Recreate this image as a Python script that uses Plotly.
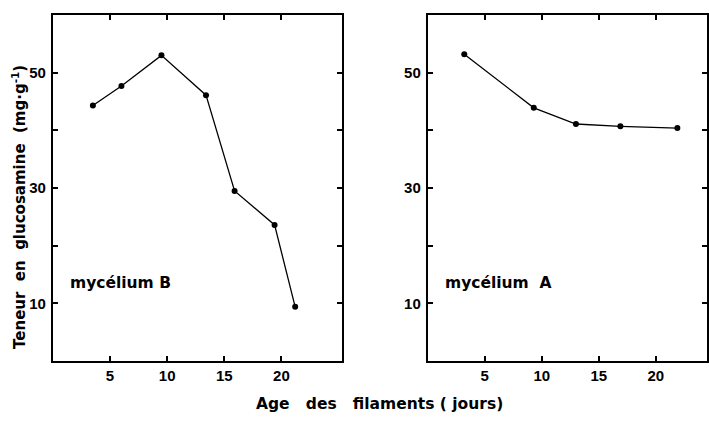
import plotly.graph_objects as go

# Data
days_B = [3.5, 6.0, 9.5, 13.4, 15.9, 19.4, 21.2]
glucosamine_B = [44.3, 47.7, 53.0, 46.1, 29.5, 23.6, 9.4]
days_A = [3.2, 9.3, 13.0, 16.9, 21.9]
glucosamine_A = [53.2, 43.9, 41.1, 40.7, 40.4]

x_tickvals = [5, 10, 15, 20]
y_tickvals = [10, 20, 30, 40, 50]
y_ticktext = ["10", "", "30", "", "50"]

FONT = "Liberation Sans"
LFONT = "DejaVu Sans"
W, H = 709, 422

fig = go.Figure()
line_style = dict(color="black", width=1.3)
marker_style = dict(color="black", size=6)

fig.add_trace(go.Scatter(x=days_B, y=glucosamine_B, mode="lines+markers",
                         line=line_style, marker=marker_style,
                         xaxis="x", yaxis="y", showlegend=False))
fig.add_trace(go.Scatter(x=days_A, y=glucosamine_A, mode="lines+markers",
                         line=line_style, marker=marker_style,
                         xaxis="x2", yaxis="y2", showlegend=False))

xdom1 = [53 / W, 343 / W]
xdom2 = [429 / W, 1.0]
ydom = [61 / H, 407 / H]

tickfont = dict(family=FONT, size=15, color="black", weight="bold")

common_x = dict(tickvals=x_tickvals, ticks="inside", ticklen=5, tickwidth=1.5,
                tickcolor="black", showline=True, linecolor="black", linewidth=2,
                mirror="allticks", showgrid=False, zeroline=False,
                tickfont=tickfont, ticklabelstandoff=0)
common_y = dict(tickvals=y_tickvals, ticktext=y_ticktext, ticks="inside",
                ticklen=5, tickwidth=1.5, tickcolor="black", showline=True,
                linecolor="black", linewidth=2, mirror="allticks",
                showgrid=False, zeroline=False, tickfont=tickfont,
                range=[0, 60], ticklabelstandoff=2)

fig.update_layout(
    width=W, height=H,
    margin=dict(l=0, r=0, t=0, b=0),
    paper_bgcolor="white", plot_bgcolor="white",
    xaxis=dict(domain=xdom1, range=[0, 25.3], anchor="y", **common_x),
    yaxis=dict(domain=ydom, anchor="x", **common_y),
    xaxis2=dict(domain=xdom2, range=[0, 24.5], anchor="y2", **common_x),
    yaxis2=dict(domain=ydom, anchor="x2", **common_y),
)

ann_font = dict(family=LFONT, size=15.5, color="black", weight="bold")
fig.add_annotation(x=1.3, y=13.6, xref="x", yref="y", text="mycélium B",
                   showarrow=False, xanchor="left", yanchor="middle", font=ann_font)
fig.add_annotation(x=1.3, y=13.6, xref="x2", yref="y2", text="mycélium\u00a0\u00a0A",
                   showarrow=False, xanchor="left", yanchor="middle", font=ann_font)

fig.add_annotation(x=381 / W, y=1 - 404 / H, xref="paper", yref="paper",
                   text="Age\u00a0\u00a0\u00a0des\u00a0\u00a0\u00a0filaments\u00a0(\u00a0jours)",
                   showarrow=False, xanchor="center", yanchor="middle",
                   font=dict(family=LFONT, size=15.5, color="black", weight="bold"))
fig.add_annotation(x=19 / W, y=1 - 207 / H, xref="paper", yref="paper",
                   text="Teneur\u00a0\u00a0en\u00a0\u00a0glucosamine\u00a0\u00a0(mg\u00b7g<sup>-1</sup>)",
                   showarrow=False, textangle=-90, xanchor="center", yanchor="middle",
                   font=dict(family=LFONT, size=15, color="black", weight="bold"))

fig.write_html("out.html")
